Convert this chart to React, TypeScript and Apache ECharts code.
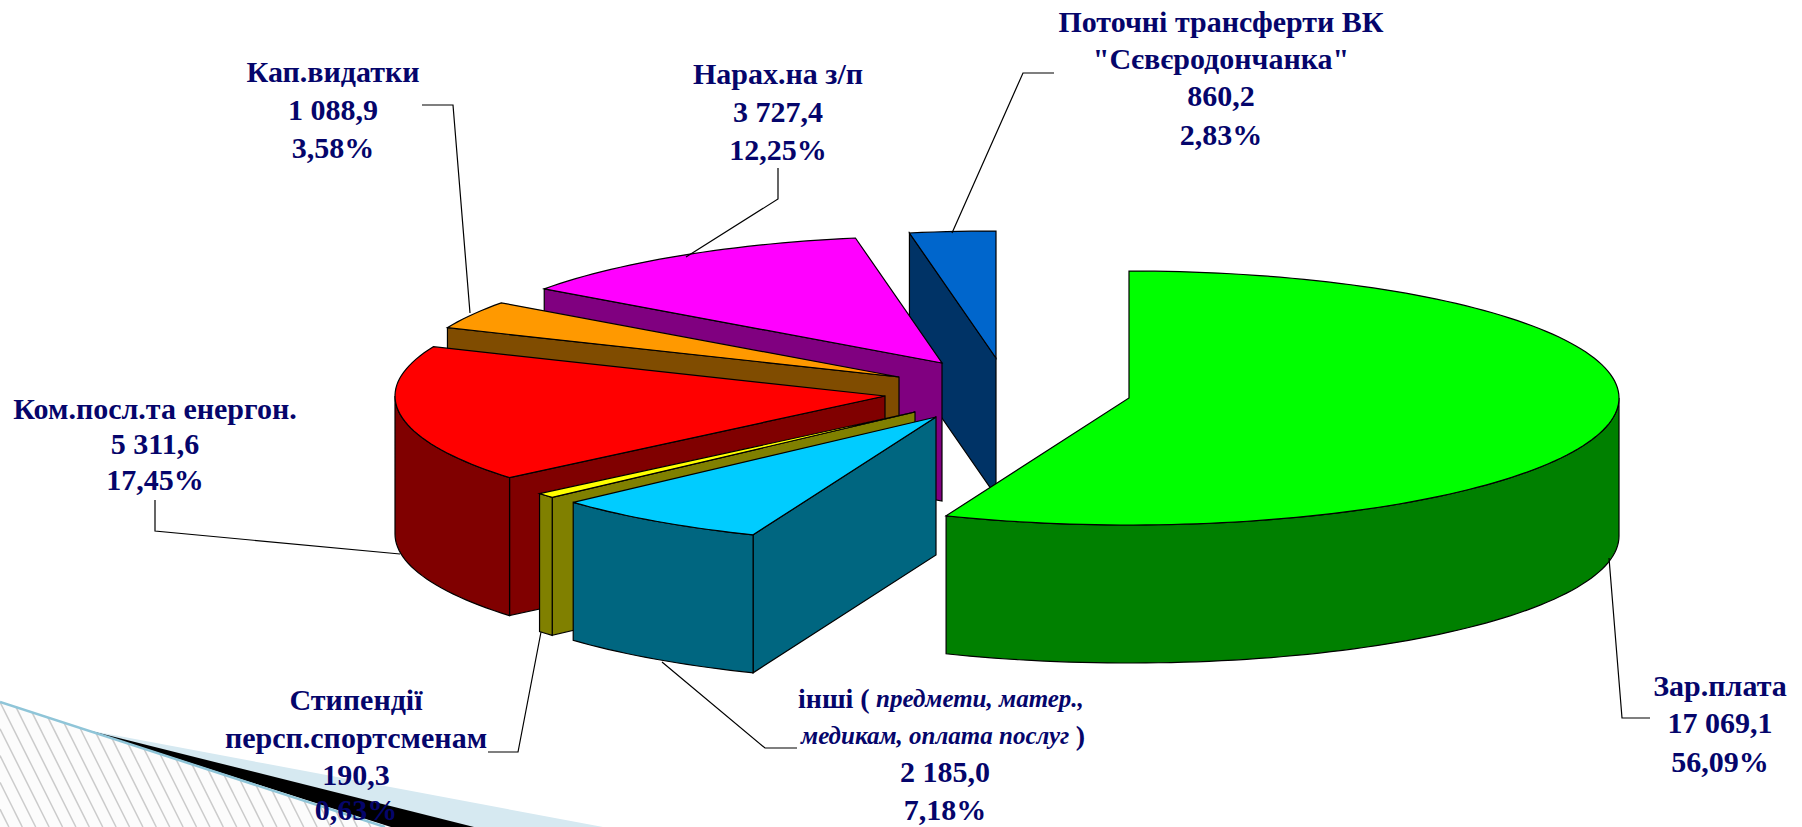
import React, { useEffect, useRef } from "react";
import * as echarts from "echarts";

// ---- data (clockwise from 12 o'clock) ----
const categories = ["Зар.плата", "інші", "Стипендії персп.спортсменам", "Ком.посл.та енергон.", "Кап.видатки", "Нарах.на з/п", "Поточні трансферти ВК \"Сєвєродончанка\""];
const values = [17069.1, 2185.0, 190.3, 5311.6, 1088.9, 3727.4, 860.2];
const percents = [56.09, 7.18, 0.63, 17.45, 3.58, 12.25, 2.83];
const topColors = ["#00FF00", "#00CCFF", "#FFFF00", "#FF0000", "#FF9900", "#FF00FF", "#0066CC"];
const sideColors = ["#008000", "#006680", "#808000", "#800000", "#804C00", "#800080", "#003366"];
// explosion of each slice, in pixels, relative to the pie's centre
const explodeX = [0, -193, -214, -244, -230, -187, -133];
const explodeY = [0, 19, 14, -2, -21, -35, -40];

// ---- layout ----
const PIE = { cx: 1129, cy: 398, rx: 490, ry: 127, depth: 138 };
const INK = "#05056B";
const FONT = "bold 30px 'Liberation Serif'";
const total = values.reduce((a, b) => a + b, 0);

const fmtValue = (v: number) => {
  const [i, d] = v.toFixed(1).split(".");
  return i.replace(/\B(?=(\d{3})+$)/g, " ") + "," + d;
};
const fmtPct = (p: number) => p.toFixed(2).replace(".", ",") + "%";

const labelBlocks: { i: number; x: number; ys: number[]; name: string[] }[] = [
  { i: 0, x: 1720, ys: [687, 724, 763], name: ["Зар.плата"] },
  { i: 2, x: 356, ys: [701, 739, 776, 811], name: ["Стипендії", "персп.спортсменам"] },
  { i: 3, x: 155, ys: [410, 445, 481], name: ["Ком.посл.та енергон."] },
  { i: 4, x: 333, ys: [73, 111, 149], name: ["Кап.видатки"] },
  { i: 5, x: 778, ys: [75, 113, 151], name: ["Нарах.на з/п"] },
  { i: 6, x: 1221, ys: [23, 60, 97, 136], name: ["Поточні трансферти ВК", "\"Сєвєродончанка\""] },
];

const leaders: number[][][] = [
  [[1650, 718], [1622, 718], [1609, 558]],
  [[797, 748], [765, 748], [662, 662]],
  [[488, 752], [518, 752], [541, 632]],
  [[155, 500], [155, 531], [400, 554]],
  [[422, 105], [453, 105], [470, 313]],
  [[778, 168], [778, 199], [686, 257]],
  [[1054, 73], [1023, 73], [952, 233]],
];

function renderSlice(params: any) {
  const i = params.dataIndex;
  const before = values.slice(0, i).reduce((a, b) => a + b, 0);
  const a0 = (before / total) * 360;
  const a1 = ((before + values[i]) / total) * 360;
  const cx = PIE.cx + explodeX[i];
  const cy = PIE.cy + explodeY[i];
  const pt = (deg: number, drop = 0) => {
    const r = (deg * Math.PI) / 180;
    return [cx + PIE.rx * Math.sin(r), cy - PIE.ry * Math.cos(r) + drop];
  };
  const arc = (from: number, to: number, drop = 0) => {
    const out: number[][] = [];
    const n = Math.max(2, Math.ceil((to - from) / 1.5));
    for (let k = 0; k <= n; k++) out.push(pt(from + ((to - from) * k) / n, drop));
    return out;
  };
  const z = (6 - i) * 10;
  const line = { stroke: "#000", lineWidth: 1.2 };
  const children: any[] = [];
  const poly = (points: number[][], fill: string, z2: number) =>
    children.push({ type: "polygon", z2, shape: { points }, style: { fill, ...line } });
  // radial wall of the leading edge
  if (a0 >= 180 && a0 < 360) {
    const p = pt(a0);
    poly([[cx, cy], p, [p[0], p[1] + PIE.depth], [cx, cy + PIE.depth]], sideColors[i], z + 1);
  }
  // outer curved wall
  const w0 = Math.max(a0, 90);
  const w1 = Math.min(a1, 270);
  if (w1 > w0) {
    poly([...arc(w0, w1), ...arc(w0, w1, PIE.depth).reverse()], sideColors[i], z + 2);
  }
  // top
  poly([[cx, cy], ...arc(a0, a1)], topColors[i], z + 3);
  return { type: "group", children };
}

function buildDecor() {
  const g: any[] = [];
  const edge = (x: number) => 702 + x * 0.325;
  g.push({ type: "polygon", z: -5, shape: { points: [[0, 702], [385, 827], [0, 827]] }, style: { fill: "#FCFCFC" } });
  for (let k = -40; k < 32; k++) {
    const x0 = k * 13.4;
    // hatch line x = x0 + (y-702)/2, clipped to the slanted edge and to the page
    let xs = x0 / (1 - 0.1625);
    let ys = edge(xs);
    if (xs < 0) { ys = 702 - x0 * 2; xs = 0; }
    const ye = 827;
    const xe = x0 + (ye - 702) / 2;
    if (ys >= 827 || xe < 0) continue;
    g.push({ type: "line", z: -4, shape: { x1: xs, y1: ys, x2: xe, y2: ye }, style: { stroke: "#CBCBCB", lineWidth: 1.5 } });
  }
  g.push({ type: "polygon", z: -3, shape: { points: [[87, 730], [603, 827], [391, 827]] }, style: { fill: "#D6E9F1" } });
  g.push({ type: "polygon", z: -2, shape: { points: [[87, 730], [474, 827], [391, 827]] }, style: { fill: "#000" } });
  g.push({ type: "line", z: -1, shape: { x1: 0, y1: 702, x2: 385, y2: 827 }, style: { stroke: "#8FC5D8", lineWidth: 2.5 } });
  return g;
}

function buildLabels() {
  const g: any[] = [];
  const txt = (text: string, x: number, y: number, font = FONT, align = "center") =>
    g.push({ type: "text", z: 10, x, y: y - 2, style: { text, font, fill: INK, align, verticalAlign: "middle" } });
  labelBlocks.forEach((b) => {
    const lines = [...b.name, fmtValue(values[b.i]), fmtPct(percents[b.i])];
    lines.forEach((t, k) => txt(t, b.x, b.ys[k]));
  });
  const ital = "italic bold 25px 'Liberation Serif'";
  txt("інші (", 798, 700, "bold 28px 'Liberation Serif'", "left");
  txt("предмети, матер.,", 876, 700, ital, "left");
  txt("медикам, оплата послуг", 801, 737, ital, "left");
  txt(")", 1085, 737, "bold 28px 'Liberation Serif'", "right");
  txt(fmtValue(values[1]), 945, 773);
  txt(fmtPct(percents[1]), 945, 811);
  return g;
}

export default function App() {
  const ref = useRef<HTMLDivElement>(null);
  useEffect(() => {
    document.body.style.margin = "0";
    document.body.style.background = "#fff";
    const chart = echarts.init(ref.current!, undefined, { renderer: "svg" });
    chart.setOption({
      animation: false,
      backgroundColor: "#fff",
      series: [
        {
          type: "custom",
          coordinateSystem: "none",
          silent: true,
          renderItem: renderSlice,
          data: values.map((v, i) => ({ name: categories[i], value: [v, percents[i]] })),
        },
      ],
      graphic: [
        ...buildDecor(),
        ...leaders.map((points) => ({
          type: "polyline",
          z: 9,
          shape: { points },
          style: { stroke: "#000", lineWidth: 1.2, fill: "none" },
        })),
        ...buildLabels(),
      ],
    });
    return () => chart.dispose();
  }, []);
  return <div ref={ref} style={{ position: "absolute", left: 0, top: 0, width: 1802, height: 827, overflow: "hidden" }} />;
}
